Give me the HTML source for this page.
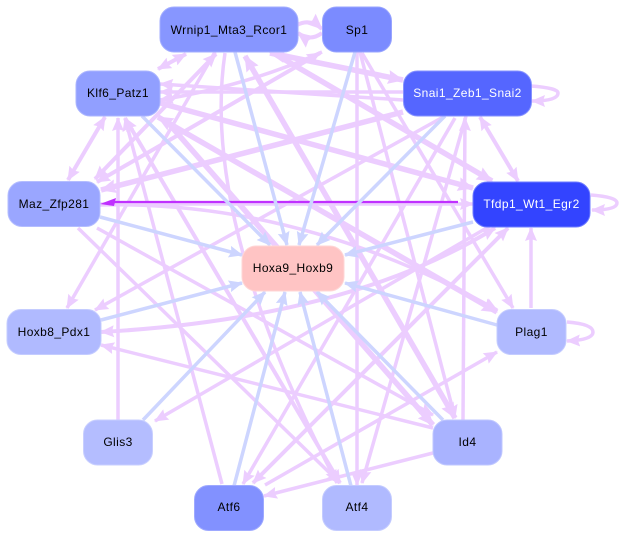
<!DOCTYPE html>
<html><head><meta charset="utf-8"><style>
html,body{margin:0;padding:0;background:#fff;width:621px;height:536px;overflow:hidden}
svg{display:block}
text{font-family:"Liberation Sans",sans-serif;font-size:12px;text-anchor:middle;fill:#000;letter-spacing:.4px}
.l{stroke:#eccdff;fill:none;stroke-width:3.5;marker-end:url(#a)}
.n{stroke:#eccdff;fill:none;stroke-width:3.5}
.t{stroke:#eccdff;fill:none;stroke-width:5.5;marker-end:url(#c)}
.d{stroke:#eccdff;fill:none;stroke-width:4;marker-end:url(#a);marker-start:url(#a)}
.e{stroke:#eccdff;fill:none;stroke-width:5.500;marker-end:url(#c);marker-start:url(#c)}
.b{stroke:#cdd5ff;fill:none;stroke-width:3.5;marker-end:url(#b)}
rect{stroke-width:1}
</style></head><body>
<svg width="621" height="536" viewBox="0 0 621 536" xmlns="http://www.w3.org/2000/svg">
<defs>
<marker id="a" markerUnits="userSpaceOnUse" markerWidth="16" markerHeight="14" refX="13" refY="7" orient="auto-start-reverse"><path d="M0 1L14 7L0 13L2 7z" fill="#eccdff"/></marker>
<marker id="c" markerUnits="userSpaceOnUse" markerWidth="18" markerHeight="16" refX="15" refY="8" orient="auto-start-reverse"><path d="M0 1L16 8L0 15L2 8z" fill="#eccdff"/></marker>
<marker id="b" markerUnits="userSpaceOnUse" markerWidth="16" markerHeight="14" refX="13" refY="7" orient="auto-start-reverse"><path d="M0 1L14 7L0 13L2 7z" fill="#cdd5ff"/></marker>
</defs>
<!-- lilac edges -->
<path class="d" d="M186 54L158 69"/>
<path class="d" d="M105 117L68 180"/>
<path class="d" d="M480 117L518 181"/>
<path class="t" d="M160 103L473 188"/>
<path class="t" d="M170 125L433 425"/>
<path class="e" d="M158 117L497 312"/>
<path class="e" d="M245 56L455 418"/>
<path class="e" d="M270 53L403 80"/>
<path class="t" d="M275 54L492 181"/>
<path class="l" d="M403 92L160 92"/>
<path class="l" d="M403 100L160 84"/>
<path class="l" d="M322 52Q250 85 160 100"/>
<path class="t" d="M403 112L101 190"/>
<path class="d" d="M95 179L216 54"/>
<path class="d" d="M97 182L320 53"/>
<path class="l" d="M215 52L67 308"/>
<path class="l" d="M445 116L95 310"/>
<path class="l" d="M225 53Q200 220 337 483"/>
<path class="l" d="M118 420L118 118"/>
<path class="l" d="M222 484L125 118"/>
<path class="d" d="M125 118L340 483"/>
<path class="d" d="M101 332Q350 318 495 228"/>
<path class="l" d="M433 428L101 345"/>
<path class="l" d="M78 228L340 483"/>
<path class="l" d="M97 228L433 415"/>
<path class="l" d="M100 205Q300 200 497 310"/>
<path class="l" d="M463 420L465 118"/>
<path class="l" d="M360 52L455 418"/>
<path class="l" d="M357 52L357 485"/>
<path class="l" d="M455 118L243 484"/>
<path class="d" d="M508 228L253 483"/>
<path class="l" d="M433 453L264 496"/>
<path class="l" d="M265 485L497 352"/>
<path class="l" d="M466 116L362 483"/>
<path class="l" d="M531 308L531 228"/>
<path class="l" d="M362 53L513 308"/>
<path class="l" d="M490 226L155 421"/>
<path d="M100 204L473 204" stroke="#eccdff" stroke-width="3.500" fill="none" marker-end="url(#a)"/>
<path class="t" d="M297 25Q310 18 322 29" style="stroke-width:4"/>
<path class="t" d="M322 33Q310 42 298 33" style="stroke-width:4"/>
<path class="l" d="M531 86Q558 88 558 93Q558 101 532 101"/>
<path class="l" d="M591 195Q617 197 617 203Q617 210 592 210"/>
<path class="l" d="M567 322Q593 324 593 332Q593 340 567 341"/>
<!-- purple -->
<path d="M458 202L114 202" stroke="#c030ff" stroke-width="2.200" fill="none"/>
<path d="M100 204L116 198L114 206z" fill="#c030ff"/>
<!-- blue edges -->
<path class="b" d="M142 116L270 245"/>
<path class="b" d="M235 52L287 245"/>
<path class="b" d="M355 52L299 245"/>
<path class="b" d="M445 116L317 245"/>
<path class="b" d="M473 222L345 255"/>
<path class="b" d="M497 325L345 283"/>
<path class="b" d="M443 420L317 292"/>
<path class="b" d="M351 486L300 292"/>
<path class="b" d="M234 486L285 292"/>
<path class="b" d="M143 420L265 292"/>
<path class="b" d="M101 320L242 283"/>
<path class="b" d="M100 217L242 255"/>
<!-- nodes -->
<rect x="160" y="7" width="138" height="45" rx="14" fill="#8796ff" stroke="#a3aeff"/><text x="229" y="34">Wrnip1_Mta3_Rcor1</text>
<rect x="322.500" y="7" width="69" height="45" rx="14" fill="#7b8bff" stroke="#98a4ff"/><text x="357" y="34">Sp1</text>
<rect x="76" y="71" width="84" height="45" rx="14" fill="#919fff" stroke="#abb5ff"/><text x="118" y="97">Klf6_Patz1</text>
<rect x="403.500" y="71" width="128" height="45" rx="14" fill="#5566ff" stroke="#8591ff"/><text x="467.500" y="97" style="fill:#fff">Snai1_Zeb1_Snai2</text>
<rect x="8" y="181.500" width="92" height="45" rx="14" fill="#9aa6ff" stroke="#b4bdff"/><text x="54" y="208">Maz_Zfp281</text>
<rect x="473" y="182" width="117" height="45" rx="14" fill="#3344ff" stroke="#6d7bff"/><text x="531.500" y="208" style="fill:#fff">Tfdp1_Wt1_Egr2</text>
<rect x="242" y="246" width="102" height="45" rx="14" fill="#ffc4c4" stroke="#ffd6d6"/><text x="293" y="272">Hoxa9_Hoxb9</text>
<rect x="7" y="309.500" width="94" height="45" rx="14" fill="#b0baff" stroke="#c4ccff"/><text x="54" y="336">Hoxb8_Pdx1</text>
<rect x="497" y="309.500" width="69" height="45" rx="14" fill="#b0baff" stroke="#c4ccff"/><text x="531.500" y="336">Plag1</text>
<rect x="83.500" y="420" width="69" height="45" rx="14" fill="#b4bdff" stroke="#c8cfff"/><text x="118" y="446">Glis3</text>
<rect x="433" y="420" width="69" height="45" rx="14" fill="#a9b3ff" stroke="#bfc7ff"/><text x="467.500" y="446">Id4</text>
<rect x="194.500" y="485.500" width="69" height="45" rx="14" fill="#8291ff" stroke="#9ea9ff"/><text x="229" y="511">Atf6</text>
<rect x="322.500" y="485.500" width="69" height="45" rx="14" fill="#b0baff" stroke="#c4ccff"/><text x="357" y="511">Atf4</text>
</svg>
</body></html>
